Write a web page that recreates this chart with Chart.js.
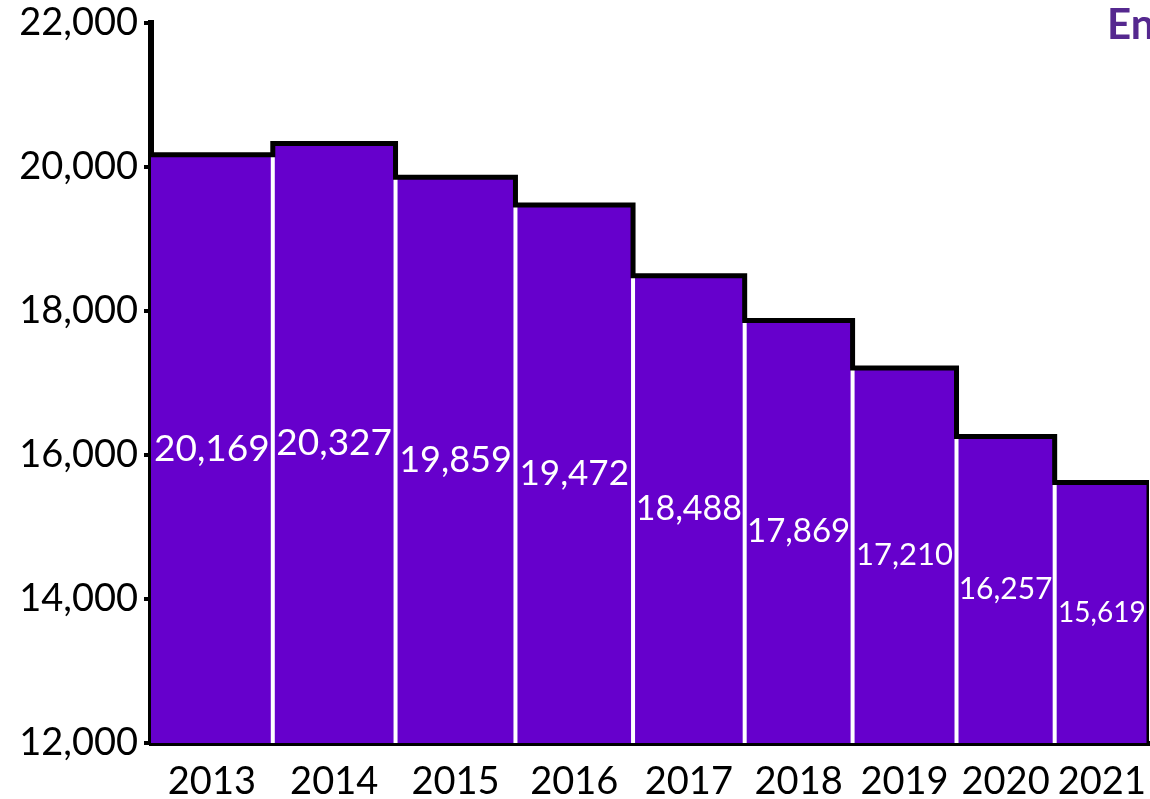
<!DOCTYPE html>
<html>
<head>
<meta charset="utf-8">
<script src="https://cdn.jsdelivr.net/npm/chart.js@4"></script>
<style>
  html, body { margin: 0; padding: 0; background: #fff; }
  #wrap { width: 1150px; height: 799px; }
</style>
</head>
<body>
<div id="wrap"><canvas id="stepChart"></canvas></div>
<script>
// data
const years = ["2013", "2014", "2015", "2016", "2017", "2018", "2019", "2020", "2021"];
const values = [20169, 20327, 19859, 19472, 18488, 17869, 17210, 16257, 15619];
const yTicks = [12000, 14000, 16000, 18000, 20000, 22000];
const cornerText = "En";

const yMin = 12000;
const barColor = "#6600cc";

// bar widths follow the value, so x runs on the cumulative total
const starts = [];
let total = 0;
values.forEach((v) => {
  starts.push(total);
  total += v;
});
const centers = values.map((v, i) => starts[i] + v / 2);

// top outline points (stepped)
const stepPoints = values.map((v, i) => ({ x: starts[i], y: v }));
stepPoints.push({ x: total, y: values[values.length - 1] });
stepPoints.push({ x: total, y: yMin });

// white gaps between bars
const gapPoints = [];
for (let i = 1; i < values.length; i++) {
  gapPoints.push({ x: starts[i], y: yMin });
  gapPoints.push({ x: starts[i], y: Math.min(values[i - 1], values[i]) });
  gapPoints.push({ x: starts[i], y: null });
}

const fmt = (n) => n.toLocaleString("en-US");

// value labels inside bars, font grows with the bar
const barLabels = {
  id: "barLabels",
  afterDatasetsDraw(chart) {
    const { ctx, scales } = chart;
    const x = scales.x;
    const y = scales.y;
    ctx.save();
    ctx.fillStyle = "#ffffff";
    ctx.textAlign = "center";
    ctx.textBaseline = "middle";
    values.forEach((v, i) => {
      const size = Math.round(37 * v / 20327);
      ctx.font = size + "px Lato";
      const px = x.getPixelForValue(centers[i]);
      const py = (y.getPixelForValue(v) + y.getPixelForValue(yMin)) / 2;
      ctx.fillText(fmt(v), px, py);
    });
    ctx.restore();
  },
  afterDraw(chart) {
    const { ctx } = chart;
    ctx.save();
    ctx.fillStyle = "#55288f";
    ctx.font = "bold 42px Lato";
    ctx.textAlign = "left";
    ctx.textBaseline = "alphabetic";
    ctx.fillText(cornerText, 1107, 39);
    ctx.restore();
  },
};

new Chart(document.getElementById("stepChart"), {
  type: "line",
  data: {
    datasets: [
      {
        label: "fill",
        data: stepPoints,
        stepped: true,
        fill: "start",
        backgroundColor: barColor,
        borderWidth: 0,
        pointRadius: 0,
        order: 3,
      },
      {
        label: "gaps",
        data: gapPoints,
        spanGaps: false,
        borderColor: "#ffffff",
        borderWidth: 4,
        pointRadius: 0,
        fill: false,
        order: 2,
      },
      {
        label: "outline",
        data: stepPoints,
        stepped: true,
        fill: false,
        borderColor: "#000000",
        borderWidth: 5,
        pointRadius: 0,
        order: 1,
      },
    ],
  },
  options: {
    responsive: true,
    maintainAspectRatio: false,
    animation: false,
    layout: { padding: { top: 23, right: 1, left: 0, bottom: 0 } },
    plugins: {
      legend: { display: false },
      tooltip: { enabled: false },
    },
    scales: {
      x: {
        type: "linear",
        min: 0,
        max: total,
        z: 1,
        afterBuildTicks: (scale) => {
          scale.ticks = centers.map((c) => ({ value: c }));
        },
        afterFit: (scale) => {
          scale.height = 56;
          scale.paddingLeft = 0;
          scale.paddingRight = 0;
        },
        grid: { display: false },
        border: { display: true, color: "#000000", width: 5 },
        ticks: {
          autoSkip: false,
          maxRotation: 0,
          padding: 8,
          color: "#000000",
          font: { family: "Lato", size: 38 },
          callback: (val, idx) => years[idx],
        },
      },
      y: {
        min: yMin,
        max: 22000,
        z: 1,
        afterBuildTicks: (scale) => {
          scale.ticks = yTicks.map((t) => ({ value: t }));
        },
        afterFit: (scale) => {
          scale.width = 151;
          scale.paddingTop = 0;
          scale.paddingBottom = 0;
        },
        grid: {
          display: true,
          drawOnChartArea: false,
          drawTicks: true,
          tickLength: 7,
          lineWidth: 4,
          color: "#000000",
        },
        border: { display: true, color: "#000000", width: 6 },
        ticks: {
          padding: 6,
          color: "#000000",
          font: { family: "Lato", size: 38 },
          callback: (val) => fmt(val),
        },
      },
    },
  },
  plugins: [barLabels],
});
</script>
</body>
</html>
